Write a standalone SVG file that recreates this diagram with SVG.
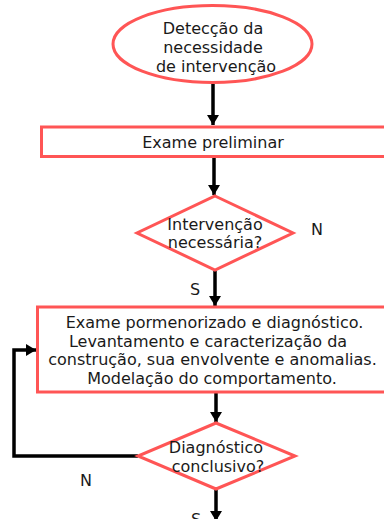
<svg xmlns="http://www.w3.org/2000/svg" width="384" height="519" viewBox="0 0 384 519">
<style>
.shape{fill:#ffffff;stroke:#ff5555;stroke-width:3}
.t{font-family:"DejaVu Sans",Verdana,sans-serif;font-size:16px;fill:#1a1a1a;text-anchor:middle}
.c{fill:none;stroke:#000000;stroke-width:3.5}
</style>
<defs>
<marker id="ah" markerWidth="10" markerHeight="12" refX="10" refY="5" orient="auto" markerUnits="userSpaceOnUse" viewBox="0 0 10 10" preserveAspectRatio="none">
<path d="M0,0 L10,5 L0,10 Z" fill="#000000"/>
</marker>
</defs>
<rect width="384" height="519" fill="#ffffff"/>
<g id="connectors">
<line class="c" x1="213" y1="84" x2="213" y2="125" marker-end="url(#ah)"/>
<line class="c" x1="214" y1="157" x2="214" y2="195" marker-end="url(#ah)"/>
<line class="c" x1="215" y1="271" x2="215" y2="306" marker-end="url(#ah)"/>
<line class="c" x1="216" y1="393" x2="216" y2="422" marker-end="url(#ah)"/>
<line class="c" x1="216" y1="489" x2="216" y2="521" marker-end="url(#ah)"/>
<polyline class="c" points="138,456 14,456 14,350 36,350" marker-end="url(#ah)"/>
</g>
<g id="start">
<ellipse class="shape" cx="212.5" cy="44" rx="99.5" ry="38.5"/>
<text class="t" x="213" y="34">Detecção da</text>
<text class="t" x="213" y="53">necessidade</text>
<text class="t" x="216" y="72">de intervenção</text>
</g>
<g id="exame-preliminar">
<rect class="shape" x="41.5" y="127" width="360" height="29.5"/>
<text class="t" x="213" y="148">Exame preliminar</text>
</g>
<g id="intervencao">
<polygon class="shape" points="215,196 293,233 215,270 137,233"/>
<text class="t" x="215" y="230">Intervenção</text>
<text class="t" x="215" y="248">necessária?</text>
</g>
<g id="exame-pormenorizado">
<rect class="shape" x="37.5" y="307" width="360" height="85"/>
<text class="t" x="214.5" y="328">Exame pormenorizado e diagnóstico.</text>
<text class="t" x="208" y="346.5">Levantamento e caracterização da</text>
<text class="t" x="212.5" y="365">construção, sua envolvente e anomalias.</text>
<text class="t" x="212" y="383.5">Modelação do comportamento.</text>
</g>
<g id="diagnostico">
<polygon class="shape" points="216,423 295,456 216,489 138,456"/>
<text class="t" x="216" y="453">Diagnóstico</text>
<text class="t" x="218" y="472">conclusivo?</text>
</g>
<g id="labels">
<text class="t" x="317" y="235">N</text>
<text class="t" x="195" y="295">S</text>
<text class="t" x="86" y="486">N</text>
<text class="t" x="196" y="525">S</text>
</g>
</svg>
